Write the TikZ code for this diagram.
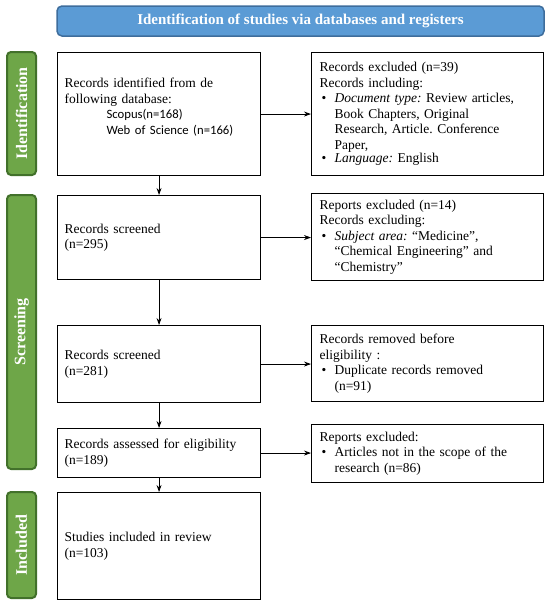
\documentclass[tikz,border=0pt]{standalone}
\usepackage{fontspec}
\setmainfont{Liberation Serif}
\newfontfamily\calibri{Carlito}
\usetikzlibrary{arrows.meta,positioning}
\definecolor{bandblue}{HTML}{5B9BD5}
\definecolor{banddark}{HTML}{3E6D9C}
\definecolor{phasegreen}{HTML}{6EA648}
\definecolor{phasedark}{HTML}{42712B}
\frenchspacing
\newcommand{\bul}[1]{\par\noindent\makebox[15pt][l]{\hspace*{2pt}\textbullet}\parbox[t]{201pt}{\raggedright #1}}
\newcommand{\dbname}[1]{{\calibri\fontsize{12.7}{15.5}\selectfont #1}}

\begin{document}
\begin{tikzpicture}[x=1pt, y=-1pt, font=\fontsize{13.5}{15.5}\selectfont,
  leftbox/.style={draw, line width=1.1pt, anchor=north west, align=left,
    text width=189pt, inner xsep=7pt, inner ysep=4pt},
  rightbox/.style={draw, line width=1.1pt, anchor=north west, align=left,
    text width=216pt, inner xsep=8pt, inner ysep=4pt},
  phase/.style={rounded corners=4pt, fill=phasegreen, draw=phasedark, line width=2pt,
    text=white, font=\fontsize{16}{18}\selectfont\bfseries, rotate=90,
    minimum height=29pt, inner sep=0pt},
  flow/.style={line width=0.8pt, -{Stealth[length=7pt, width=5pt]}}]
  \useasboundingbox (0,0) rectangle (550,605);

  % banner
  \node[rounded corners=5pt, fill=bandblue, draw=banddark, line width=1.5pt, text=white,
    font=\fontsize{15}{17}\selectfont\bfseries, minimum width=487pt, minimum height=30pt]
    (banner) at (300.5,21) {Identification of studies via databases and registers};

  % phases on the left
  \node[phase, minimum width=123pt] (phaseid) at (21.5,113.5) {Identification};
  \node[phase, minimum width=274pt] (phasescr) at (21.5,332) {Screening};
  \node[phase, minimum width=106pt] (phaseinc) at (21.5,545) {Included};

  % main column
  \node[leftbox, minimum height=123pt] (ident) at (57,52) {Records identified from de\\
    following database:\\
    \hspace*{42pt}\dbname{Scopus(n=168)}\\
    \hspace*{42pt}\dbname{Web of Science (n=166)}\\ \mbox{}};
  \node[leftbox, minimum height=84pt] (screen1) at (57,195) {Records screened\\ (n=295)};
  \node[leftbox, minimum height=77pt] (screen2) at (57,325) {Records screened\\ (n=281)};
  \node[leftbox, minimum height=49pt] (assess) at (57,428) {Records assessed for eligibility\\ (n=189)};
  \node[leftbox, minimum height=107pt] (incl) at (57,492) {Studies included in review\\ (n=103)};

  % exclusions
  \node[rightbox, minimum height=123pt] (excl1) at (311,52) {Records excluded (n=39)\\
    Records including:
    \bul{\textit{Document type:} Review articles,\\ Book Chapters, Original\\
      Research, Article. Conference\\ Paper,}
    \bul{\textit{Language:} English}};
  \node[rightbox, minimum height=87pt] (excl2) at (311,193) {Reports excluded (n=14)\\
    Records excluding:
    \bul{\textit{Subject area:} ``Medicine'',\\ ``Chemical Engineering'' and\\ ``Chemistry''}};
  \node[rightbox, minimum height=76pt] (excl3) at (311,325) {Records removed before\\
    eligibility :
    \bul{Duplicate records removed\\ (n=91)}};
  \node[rightbox, minimum height=58pt] (excl4) at (311,424) {Reports excluded:
    \bul{Articles not in the scope of the\\ research (n=86)}};

  % arrows down
  \draw[flow] (ident.south) -- (screen1.north);
  \draw[flow] (screen1.south) -- (screen2.north);
  \draw[flow] (screen2.south) -- (assess.north);
  \draw[flow] (assess.south) -- (incl.north);

  % arrows right
  \draw[flow] (ident.east) -- (ident.east -| excl1.west);
  \draw[flow] (screen1.east) -- (screen1.east -| excl2.west);
  \draw[flow] (screen2.east) -- (screen2.east -| excl3.west);
  \draw[flow] (assess.east) -- (assess.east -| excl4.west);
\end{tikzpicture}
\end{document}
